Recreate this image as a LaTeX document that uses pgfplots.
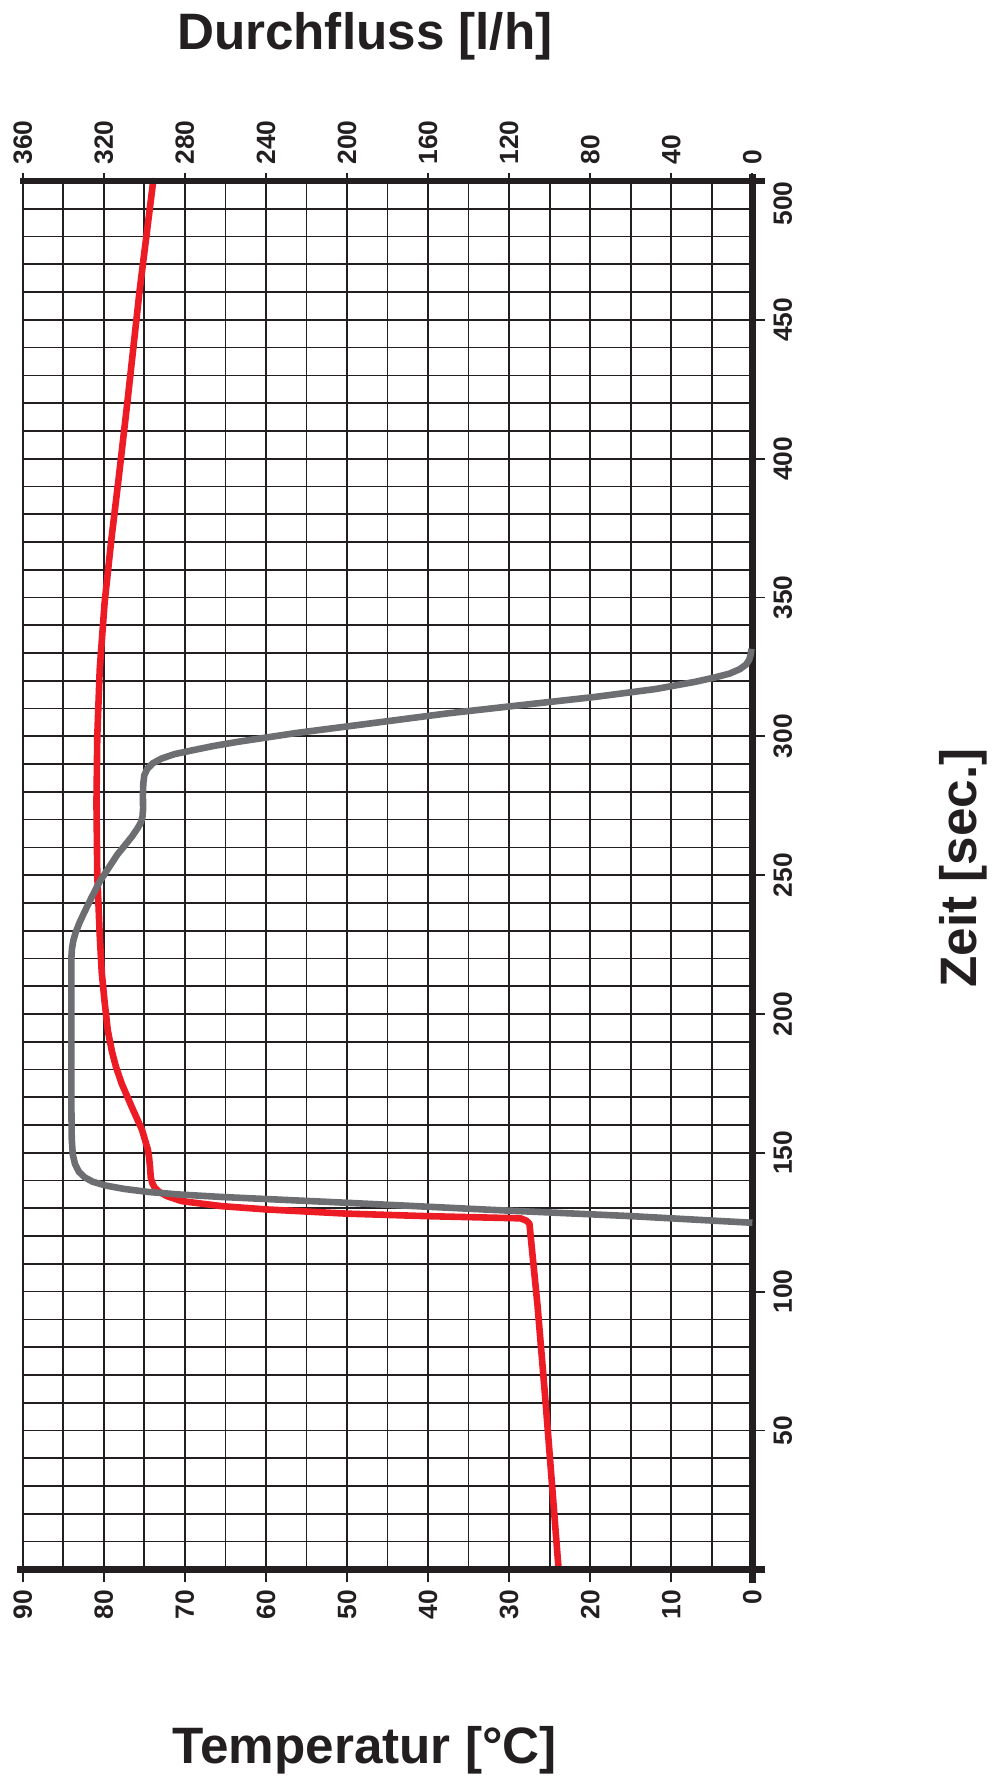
\documentclass[border=0pt]{standalone}
\usepackage{fontspec}
\setmainfont{Liberation Sans}
\usepackage{pgfplots}
\pgfplotsset{compat=1.18}
\usepackage{pgfplotstable}
\definecolor{cred}{RGB}{237,28,36}
\definecolor{cgray}{RGB}{109,110,113}
\definecolor{gridk}{RGB}{35,31,32}

\pgfplotstableread{
t T
0 23.9
30 24.7
60 25.5
95 26.5
124.5 27.5
125.6 27.9
126.4 28.6
127.2 40.3
128.1 50.1
129.6 59.9
130.8 65.5
132.6 70.4
134.4 72.2
136 73.2
137.4 73.7
139 74.0
141 74.2
145 74.3
148 74.4
151 74.55
153 74.75
155.5 75.0
158.4 75.3
166.2 76.5
175 77.8
181 78.5
186.6 79.0
194 79.5
204.5 79.9
215 80.25
228.5 80.5
250 80.8
276 80.9
300 80.8
324 80.5
348 79.9
370 79.1
392 78.2
420 77.1
460 75.6
500 73.9
}\redtable

\pgfplotstableread{
t F
124.8 0
127.2 60
129.4 127
132 200
134.1 262
135 283
135.9 298
137 310
138.2 319
139.6 325.5
141.2 329.5
143.2 332.3
146 334.2
149.4 335.3
155 335.8
168 336
220 336
223.5 335.7
226.5 335
229.5 333.8
233 331.9
236.9 329.4
242 326
247.7 322
257.3 313.4
264 306
266.8 303.4
268.8 301.8
271 300.9
274 300.6
278.8 300.7
283 300.5
286 300
288.3 298.5
290.3 295.8
292 291.5
293.6 285
295 276
296.5 266
298 254
301.2 225
304.5 190
308.2 151
311 117
314.2 77.5
317 48
319.6 28.4
321.2 18.5
322.6 11.2
324.2 6.2
325.8 3.2
327.5 1.6
329.5 0.8
331.5 0.5
}\graytable

\begin{document}
\begin{tikzpicture}
\path[use as bounding box] (-11.35pt,-104.35pt) rectangle (486.15pt,784.65pt);
\begin{axis}[
  at={(0pt,0pt)}, anchor=south west,
  scale only axis, width=364.85pt, height=694.15pt,
  xmin=0, xmax=90, x dir=reverse,
  ymin=0, ymax=500,
  axis line style={draw=none},
  xtick={0,10,...,90}, minor xtick={5,15,...,85},
  ytick={50,100,...,450}, minor ytick={10,20,...,490},
  xtick pos=left, ytick pos=right, yticklabel pos=right,
  tick align=outside,
  major tick length=6.4pt, minor tick length=0pt,
  tick style={line width=0.9pt, color=gridk},
  grid=both,
  every major grid/.style={draw=gridk, line width=0.85pt, opacity=1},
  every minor grid/.style={draw=gridk, line width=0.85pt, opacity=1},
  /pgf/number format/assume math mode=true,
  tick label style={font=\fontsize{13.2}{14}\selectfont\bfseries, inner sep=0pt, rotate=90, text=gridk},
  xticklabel style={anchor=east},
  yticklabel style={anchor=north},
  xticklabel shift=3.8pt, yticklabel shift=3.9pt,
  extra y ticks={500},
  extra y tick style={grid=none, yticklabel style={anchor=north east}},
  clip=false,
]
\addplot[cred, line width=3.3pt, line join=round, line cap=round] table[x=T, y=t] {\redtable};
\draw[line width=3.4pt, color=gridk] ([xshift=-2.7pt]axis cs:90,0) -- ([xshift=6.2pt]axis cs:0,0);
\draw[line width=3.4pt, color=gridk] ([xshift=-1.4pt]axis cs:90,500) -- ([xshift=6.2pt]axis cs:0,500);
\draw[line width=3.4pt, color=gridk] ([yshift=-6.7pt]axis cs:0,0) -- ([yshift=3.6pt]axis cs:0,500);
\end{axis}
\begin{axis}[
  at={(0pt,0pt)}, anchor=south west,
  scale only axis, width=364.85pt, height=694.15pt,
  xmin=0, xmax=360, x dir=reverse,
  ymin=0, ymax=500,
  axis line style={draw=none},
  xtick={0,40,...,360}, ytick=\empty,
  xtick pos=right, xticklabel pos=right,
  tick align=outside, major tick length=4pt,
  tick style={line width=0.9pt, color=gridk},
  /pgf/number format/assume math mode=true,
  xticklabel style={font=\fontsize{13.2}{14}\selectfont\bfseries, inner sep=0pt, rotate=90, anchor=west, text=gridk},
  xticklabel shift=4pt,
  clip=false,
]
\addplot[cgray, line width=3.3pt, line join=round] table[x=F, y=t] {\graytable};
\end{axis}
\node[anchor=base, inner sep=0pt, text=gridk, font=\fontsize{25.6}{30}\selectfont\bfseries] at (171.05pt,759.65pt) {Durchfluss [l/h]};
\node[anchor=base, inner sep=0pt, text=gridk, font=\fontsize{25.6}{30}\selectfont\bfseries] at (171.05pt,-97pt) {Temperatur [°C]};
\node[anchor=base, inner sep=0pt, text=gridk, rotate=90, font=\fontsize{25.6}{30}\selectfont\bfseries] at (476.65pt,350.65pt) {Zeit [sec.]};
\end{tikzpicture}
\end{document}
